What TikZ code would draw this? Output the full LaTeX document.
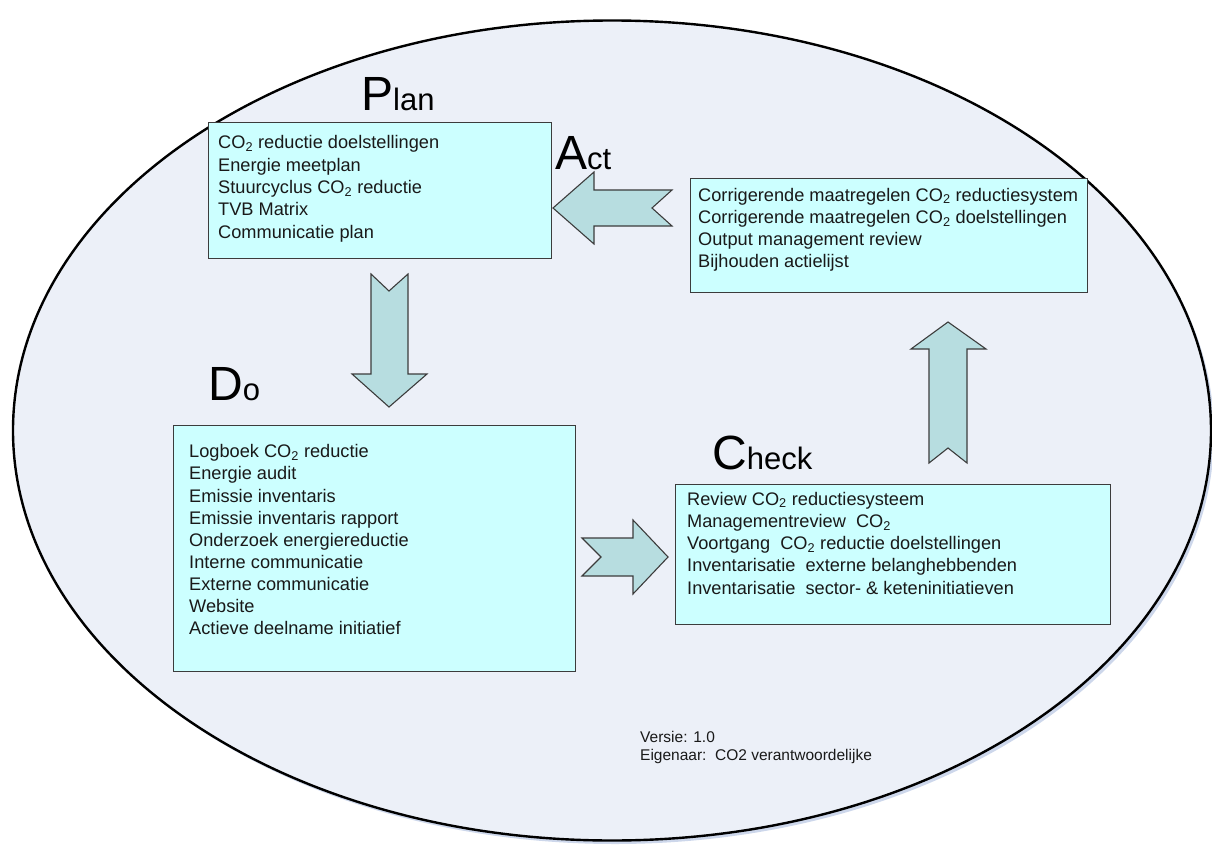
\documentclass[tikz,border=0pt]{standalone}
\usepackage{fontspec}
\setmainfont{Liberation Sans}
\definecolor{bgc}{RGB}{236,240,248}
\definecolor{shadowc}{RGB}{205,215,235}
\definecolor{boxc}{RGB}{204,255,255}
\definecolor{arrc}{RGB}{183,221,224}
\definecolor{edgec}{RGB}{60,60,60}
\definecolor{txtc}{RGB}{25,25,25}
\begin{document}
\begin{tikzpicture}[x=1pt,y=-1pt,
  boxstyle/.style={draw=edgec, fill=boxc, line width=1.2pt, anchor=north west, inner sep=0pt},
  arrstyle/.style={draw=edgec, fill=arrc, line width=1.1pt, line join=miter},
  itemtext/.style={anchor=base west, inner sep=0pt, text=txtc, font=\fontsize{18.2}{22}\selectfont},
  titletext/.style={anchor=base west, inner sep=0pt},
  vertext/.style={anchor=base west, inner sep=0pt, text=txtc, font=\fontsize{15.5}{18}\selectfont}]
\useasboundingbox (0,0) rectangle (1212,845);
% cycle ellipse
\fill[shadowc] (615,434) ellipse [x radius=599, y radius=410];
\draw[line width=2.4pt, fill=bgc] (612,430.5) ellipse [x radius=599, y radius=410];

% boxes
\node[boxstyle, minimum width=343pt, minimum height=136pt] (planbox) at (208,122) {};
\node[boxstyle, minimum width=397pt, minimum height=114pt] (actbox) at (690,178) {};
\node[boxstyle, minimum width=402pt, minimum height=246pt] (dobox) at (173,425) {};
\node[boxstyle, minimum width=435pt, minimum height=140pt] (checkbox) at (675,484) {};

% titles
\node[titletext] (plantitle) at (361,111) {\fontsize{48}{48}\selectfont P\fontsize{31}{31}\selectfont lan};
\node[titletext] (acttitle) at (555,170) {\fontsize{48}{48}\selectfont A\fontsize{31}{31}\selectfont ct};
\node[titletext] (dotitle) at (208,400) {\fontsize{48}{48}\selectfont D\fontsize{31}{31}\selectfont o};
\node[titletext] (checktitle) at (712,469) {\fontsize{48}{48}\selectfont C\fontsize{31}{31}\selectfont heck};

% items
\foreach \t [count=\i] in {{CO\textsubscript{2} reductie doelstellingen},{Energie meetplan},{Stuurcyclus CO\textsubscript{2} reductie},{TVB Matrix},{Communicatie plan}}
  \node[itemtext] (plan-\i) at (218,{149+22.25*(\i-1)}) {\t};
\foreach \t [count=\i] in {{Corrigerende maatregelen CO\textsubscript{2} reductiesystem},{Corrigerende maatregelen CO\textsubscript{2} doelstellingen},{Output management review},{Bijhouden actielijst}}
  \node[itemtext] (act-\i) at (698,{201+22.2*(\i-1)}) {\t};
\foreach \t [count=\i] in {{Logboek CO\textsubscript{2} reductie},{Energie audit},{Emissie inventaris},{Emissie inventaris rapport},{Onderzoek energiereductie},{Interne communicatie},{Externe communicatie},{Website},{Actieve deelname initiatief}}
  \node[itemtext] (do-\i) at (189,{457.7+22.16*(\i-1)}) {\t};
\foreach \t [count=\i] in {{Review CO\textsubscript{2} reductiesysteem},{Managementreview\ \ CO\textsubscript{2}},{Voortgang\ \ CO\textsubscript{2} reductie doelstellingen},{Inventarisatie\ \ externe belanghebbenden},{Inventarisatie\ \ sector- \& keteninitiatieven}}
  \node[itemtext] (check-\i) at (687,{505+22.25*(\i-1)}) {\t};

% block arrows
\draw[arrstyle] (553,208) -- (594,172) -- (594,190) -- (672,190) -- (652,208) -- (672,226) -- (594,226) -- (594,244) -- cycle;
\draw[arrstyle] (371,274) -- (389,291) -- (408,274) -- (408,374) -- (427,374) -- (389,407) -- (352,374) -- (371,374) -- cycle;
\draw[arrstyle] (582,538) -- (633,538) -- (633,520) -- (668,557) -- (633,594) -- (633,576) -- (582,576) -- (601,557) -- cycle;
\draw[arrstyle] (948,322) -- (986,349) -- (967,349) -- (967,463) -- (948,448) -- (929,463) -- (929,349) -- (911,349) -- cycle;

% version
\node[vertext] (versie) at (640,742) {Versie: 1.0};
\node[vertext] (eigenaar) at (640,760) {Eigenaar:\ \ CO2 verantwoordelijke};
\end{tikzpicture}
\end{document}
